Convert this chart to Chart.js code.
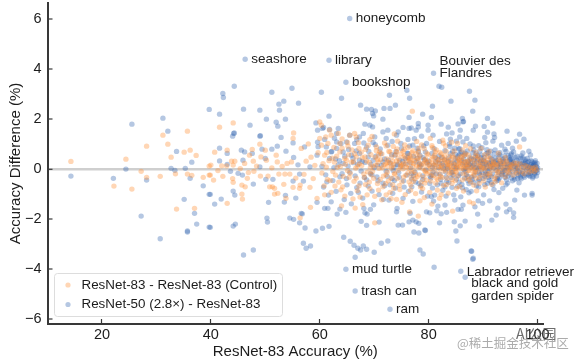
<!DOCTYPE html>
<html>
<head>
<meta charset="utf-8">
<style>
  html, body { margin: 0; padding: 0; background: #fff; }
  #wrap { position: relative; width: 576px; height: 360px; overflow: hidden; }
</style>
<script src="https://cdn.jsdelivr.net/npm/chart.js@4"></script>
</head>
<body>
<div id="wrap"><canvas id="scatterChart" width="576" height="360"></canvas></div>
<script>
//..values as [accuracy, difference]
const seriesNames = ['ResNet-83 - ResNet-83 (Control)', 'ResNet-50 (2.8×) - ResNet-83'];
const xTickValues = [20, 40, 60, 80, 100];
const yTickValues = [-6, -4, -2, 0, 2, 4, 6];

const controlPoints = [
  [14.3,.31],[24.4,.4],[27.2,-.09],[22.2,-.68],[25.5,-.8],[30.7,-.29],[28.2,.92],[31.2,1.36],[32.1,1],[35.7,1.52],[32.7,.48],[35.1,.68],
  [36.2,.76],[37.3,.55],[33.5,-.19],[35.7,-.2],[36.5,-.25],[38.6,-.33],[39.7,-.24],[33.7,-1.6],[37,-1.57],[39.7,.12],[28.2,-.33],
  [44.1,1.85],[41.6,1.68],[49,1],[55.2,1.45],[55.1,1.23],[40.7,.68],[43,.76],[47.6,.79],[47.1,.56],[50,.76],[52,.56],[54,.23],[52.2,.29],
  [49.2,.49],[46.2,.23],[47.8,.32],[50.2,.36],[56.6,.83],[57.5,.32],[54.8,.29],[43.8,.32],[44.4,.32],[44.1,.16],[42,.13],[42.9,.13],[40,.16],
  [39.9,-.24],[40.5,-.44],[42.2,-.29],[44,-.38],[44.1,-.53],[45.7,-.64],[46.3,-.71],[45.7,-1],[45.8,-1.2],[43,-1.37],[47.9,-.09],[49.1,-.28],
  [50.5,-.28],[52.5,-.2],[53.6,-.2],[54.5,-.2],[53.4,-.61],[50.8,-.71],[51.3,-.71],[51.7,-.77],[51.7,-1],[52.3,-.97],[55.1,-.73],[56.4,-.64],
  [56.3,-.77],[58.2,-.73],[53.8,-1.17],[59.5,-1.17],[58.3,-1.53],[56.4,-1.95],[58.4,.48],[59.1,.15],[57.1,-.21],[55.6,-.36],[48.4,.12],[51.2,.05],
  [53.1,.11],[45.4,.02],[46.9,-.14],[58.8,-.38],[59.7,.66],[57.9,1.01],[46.7,-.37],[41.3,-.06],
  [77,2.32],[60,1.89],[60.3,1.76],[61.8,1.56],[62.1,1.36],[63.4,1.43],[65.5,1.36],[66.4,1.43],[66.7,1.29],[60,1.23],[60.3,.96],[61.5,1.03],
  [63.7,1.03],[68.9,.96],[70.4,.89],[71,.69],[72.9,.69],[73.2,.49],[63.7,.69],[60.9,.56],[64.6,.43],[66.7,.49],[68.3,.49],[75.3,.49],[76.5,.56],
  [76.5,.36],[79.3,.36],[70.1,-2.15],[66.5,-1.56],[64,-1.47],[78.1,-1.88],[76.5,-1.71],[84.4,-1.68],[80.6,-1.4],[87.5,-1.31],[82,-1.17],[88.2,-1.37],[96.7,.89],
  [60.6,.22],[61.2,.08],[60.4,-.16],[61.4,-.41],[60.8,-.67],[62.1,-.93],[62.7,.28],[63.2,.07],[62.9,-.24],[63.5,-.52],[64.2,-.71],[64.7,.19],[65.1,-.06],
  [65.4,-.33],[65.9,.77],[66.2,.31],[66.6,.04],[66.3,-.49],[66.9,-.86],[67.4,-1.12],[67.2,.83],[67.7,.14],[68.1,-.19],[68.4,-.62],[68.7,-1.03],[69.1,.27],
  [69.4,.58],[69.7,-.09],[69.9,-.37],[70.3,.16],[70.6,-.58],[70.8,-.84],[71.2,.38],[71.5,.05],[71.7,-.28],[72.1,.21],[72.4,-.12],[72.6,-.47],[72.9,-.93],
  [73.3,.12],[73.5,.91],[73.8,-.21],[74.1,.33],[74.4,-.05],[74.6,-.66],[74.9,.62],[75.2,.18],[75.4,-.32],[75.7,-1.02],[75.9,.08],[76.2,-.15],[76.4,-.51],
  [76.8,.27],[77.1,.74],[77.3,-.08],[77.5,-.38],[77.8,.13],[78.1,.44],[78.3,-.23],[78.5,-.72],[78.9,.03],[79.1,.21],[79.4,-.11],[79.6,-.44],[79.9,.58],
  [80.1,.31],[80.3,.02],[80.5,-.27],[80.7,.86],[80.9,.16],[81.1,-.07],[81.3,-.56],[81.5,.42],[81.7,.24],[81.9,-.18],[82.1,.67],[82.3,.09],[82.5,-.34],
  [82.7,1.04],[82.9,.35],[83.1,-.03],[83.3,-.62],[83.5,.18],[83.7,.51],[83.9,-.14],[84.1,.06],[84.3,-.41],[84.5,.27],[84.7,.73],[84.9,-.09],[85.1,.13],
  [85.3,-.28],[85.5,.39],[85.7,-.7],[85.9,.02],[86.1,.21],[86.3,-.19],[86.5,.56],[86.7,.08],[86.9,-.36],[87.1,.31],[87.3,-.05],[87.5,.14],[87.7,-.52],
  [87.9,.44],[88.1,.02],[88.3,-.21],[88.5,.24],[88.7,.68],[88.9,-.11],[89.1,.11],[89.3,-.33],[89.5,.37],[89.7,-.02],[89.9,.17],[90.1,-.47],[90.3,.29],
  [90.5,.05],[90.7,-.16],[90.9,.52],[91.1,.12],[91.3,-.26],[91.5,.21],[91.7,-.04],[91.9,.33],[92.1,-.38],[92.3,.08],[92.5,.16],[92.7,-.13],[92.9,.41],
  [93.1,.01],[93.3,-.22],[93.5,.26],[93.7,-.06],[93.9,.14],[94.1,-.31],[94.3,.32],[94.5,.04],[94.7,-.15],[94.9,.19],[95.1,-.03],[95.3,.09],[95.5,-.24],
  [95.7,.25],[95.9,-.08],[96.1,.12],[96.3,-.17],[96.5,.05],[96.8,.21],[97,-.11],[97.2,.07],[97.5,-.19],[97.7,.15],[97.9,-.04],[98.2,.1],[98.4,-.13],
  [98.7,.06],[98.9,-.07],[99.2,.04],[99.4,-.1],[99.6,.08],[99.8,-.03],[74.3,1.12],[78.7,.97],[71.9,1.05],[69.2,1.18],[84.2,1.08],[86.8,.94],[89.6,.83],[92.8,.64],
  [73.1,-1.18],[79.2,-1.14],[83.6,-.96],[86.4,-.88],[90.4,-.72],[93.4,-.55],[67.9,-1.42],[71.4,-1.23],[75.1,-1.33],[77.6,-.98],[81.6,-.84],[62.4,-.1],[64.9,.36]
];

//..the saturated middle of the orange cloud, marks overlap too much to separate so these are estimates
const controlCloud = [
  [74.6,.27],[81.2,.09],[77.9,-.31],[85.6,.33],[72.3,.41],[88.4,-.14],[79.7,.63],[83.8,.24],[69.8,.12],[91.4,.07],[76.1,.18],[86.2,-.43],[73.7,-.17],[82.6,.46],
  [89.2,.28],[78.2,.07],[84.6,-.22],[66.4,.62],[80.4,-.48],[75.6,.54],[87.2,.19],[71.1,-.41],[92.6,-.09],[83.2,.71],[77.4,.34],[68.6,.33],[85.1,-.11],[79.3,-.06],
  [90.8,.23],[74.2,-.38],[81.9,.38],[88.9,.44],[73.2,.04],[86.7,.29],[76.7,-.63],[82.2,-.29],[70.7,.28],[84.4,.57],[78.8,.22],[93.6,.11],[75.3,.01],[87.8,-.29],
  [80.8,.49],[72.7,.72],[85.8,.12],[77.1,.11],[89.8,-.24],[83.1,.16],[67.3,.21],[91.9,.26],[79.1,-.33],[74.8,.09],[82.8,-.08],[86.1,.47],[76.3,.42],[81.4,.77],
  [88.2,.09],[70.2,.47],[84.8,.03],[78.4,.51],[94.4,-.12],[73.9,.59],[87.4,.36],[80.2,-.13],[75.8,-.24],[83.4,-.37],[90.2,.02],[68.2,-.34],[85.4,.21],[77.7,.62],
  [82.4,.31],[72.2,-.23],[89.4,.16],[79.8,.13],[74.4,.44],[86.9,-.17],[81.7,-.42],[76.9,-.12],[92.2,.19],[84.1,.39],[71.8,.17],[88.7,-.36],[78.6,-.52],[83.9,.14],
  [73.4,.31],[80.7,.24],[85.9,.52],[75.1,-.51],[90.6,-.31],[87.1,.08],[77.2,.23],[82.1,.01],[69.4,-.22],[84.3,-.57],[79.4,.41],[94.8,.06],[86.4,.02],[72.8,.26],
  [81.1,.56],[76.4,.03],[88.1,.32],[83.7,-.19],[74.9,.14],[91.2,-.17],[78.1,.68],[85.2,.44],[80.1,.15],[73.1,-.36],[87.6,-.06],[82.9,.53],[75.9,.36],[89.1,.51],
  [77.6,-.21],[84.7,.18],[70.9,.03],[92.9,.21],[81.8,.11],[79.6,.29],[86.6,.15],[74.1,.69],[83.3,.36],[88.6,-.03],[76.6,.47],[80.9,-.26],[85.3,.06],[72.4,.11],
  [90.1,.39],[78.3,.17],[82.3,.61],[75.4,.24],[87.3,.56],[84.2,-.03],[79.2,.82],[81.3,.28],[89.7,.07],[77.3,.46],[73.6,.19],[86.3,.34],[83.6,.07],[91.7,.13],
  [65.6,-.17],[67.8,.46],[69.1,-.52],[70.4,.74],[63.1,.52],[64.3,-.29],[61.7,.34],[62.6,.87],[65.2,.92],[68.4,.79],[66.7,-.36],[63.9,-.83],[71.6,-.71],[72.1,-.58],
  [74.7,-.82],[76.2,.87],[78.9,-.78],[80.6,.94],[82.7,-.66],[84.9,-.46],[86.8,.61],[88.3,-.64],[90.3,.58],[92.4,-.29],[93.2,.34],[95.2,.17],[96.2,.24],[94.2,.27],
  [67.1,1.06],[61.1,1.29],[64.1,1.21],[65.1,1.07],[69.6,1.31],[73.7,1.41],[75.6,.97],[77.8,1.11],[80.3,1.23],[82.6,1.16],[85.3,1.03],[87.7,.82],[91.1,.71],[94.1,.47],
  [61.9,-.46],[64.6,-1.08],[66.1,-1.19],[69.2,-.78],[70.1,-1.09],[72.2,-1.03],[74.1,-1.21],[76.7,-.84],[78.4,-1.27],[80.2,-.93],[82.3,-1.02],[85.1,-.77],[88.8,-.87],[91.6,-.61],
  [61.3,.67],[62.3,.44],[63.8,.11],[65.3,.58],[66.9,.12],[67.6,.68],[68.8,-.11],[70.6,.39],[71.4,.61],[72.5,.29],[73.4,-.62],[74.2,.81],[75.5,.79],[76.9,.66],[77.2,-.49],
  [78.1,.34],[79.3,-.56],[80.6,.41],[81.4,-.36],[82.4,.14],[83.1,.93],[84.5,.48],[85.7,.26],[86.2,.77],[87.4,-.41],[88.6,.53],[89.3,-.57],[90.7,.36],[91.3,.44],[92.2,-.51],
  [60.9,-1.03],[62.8,-.68],[64.1,.84],[65.8,.28],[67.2,-.67],[69.3,.07],[70.8,.58],[72.2,.93],[73.6,-.77],[75.3,.72],[76.8,-.33],[78.2,.83],[79.7,-.18],[81.2,.69],[83.4,.29]
];

const widePoints = [
  [25.5,1.8],[31.2,2.04],[32.1,1.52],[24.4,0],[22.1,-.37],[14.3,-.28],[33.7,.71],[36.5,.28],[32.7,.03],[33.4,-.05],[35.3,.03],[36.2,-.37],[28.2,-.44],
  [38.6,-.67],[39.7,-1.01],[35.1,-1.21],[37,-1.77],[27.2,-1.88],[35.7,-2.52],[35.7,-2.48],[37.4,-2.2],[39.7,-2.32],[30.7,-2.79],[39.7,2.39],
  [44.3,3.32],[42.2,3.03],[42.3,2.87],[41.6,2.2],[46,2.4],[51.2,3.08],[54.9,3.24],[53.4,2.72],[52.5,2.6],[56.1,2.64],[52.6,2.36],[49,2.36],[50.2,2],
  [53.7,2],[47.2,1.76],[52,1.88],[52.3,1.72],[59.3,1.85],[59.6,1.56],[44.2,1.43],[44.3,1.45],[44,1.32],[49,1.32],[49.1,1.34],[52.9,1.27],[55.1,1.05],
  [59.6,1.08],[41.6,.84],[43,.63],[45.6,.76],[46.2,.69],[47.6,.63],[49.4,.8],[52.2,.92],[51.2,.8],[53.8,.72],[57.2,.89],[59.7,.9],[59.5,.56],[55.2,.47],
  [45.9,.36],[41.6,.33],[50,.43],[43,.19],[56,.17],[58.2,.09],[49,.09],[46.3,4.4],
  [43.6,-.09],[45,-.17],[45.8,-.24],[47.8,-.6],[50.1,-.41],[51.4,-.41],[55.1,-.48],[56.3,-.2],[57,-.48],[39.9,-1.01],[40.7,-1.4],[41.9,-1.2],[44.1,-.88],
  [44.4,-1.04],[50.6,-1.33],[53.5,-1.32],[53.7,-1.05],[55.6,-1.16],[59.5,-1.33],[56.6,-1.77],[56.8,-1.79],[50.3,-1.96],[50.4,-2.12],[54.5,-1.96],[55.2,-2.01],
  [56.3,-2.15],[57.3,-2.36],[59.3,-2.48],[44.5,-2.2],[44.1,-2.28],[39.9,-2.33],[57,-2.97],[57.5,-3.17],[58.3,-3.08],[47.8,-3.24],[46,-3.44],
  [60.3,3.08],[64,2.84],[67.5,2.56],[68.6,2.4],[69.5,2.39],[70.2,2.33],[69.7,2.23],[69.9,2.13],[71.8,2.43],[72.9,2.43],[73.9,2.56],[71.6,2],[72.8,2.96],
  [61.7,2.12],[76.4,2.07],[78.9,2.2],[76.5,2.84],[76,3.16],[64.8,3.48],[65.5,6.03],[61.7,4.36],[80.9,3.84],[64.8,-4.01],[66.5,-4.88],[72.9,-5.61],[85.9,-4.09],[86.7,-4.33],
  [68.3,1.8],[69.2,1.76],[69.7,1.69],[71.6,1.49],[72.5,1.56],[74.4,1.49],[75.3,1.67],[76.4,1.63],[76.8,1.65],[78.1,1.69],[78.1,1.83],[77.7,1.56],[79.9,1.76],
  [79.9,1.56],[60.5,1.63],[60.7,1.67],[63.4,1.63],[63.1,1.43],[61.8,1.59],[68,1.43],[67.3,1.29],[65.5,1.36],[70.1,1.29],[72.2,1.23],[74.1,1.36],[76.2,1.19],
  [78.7,1.32],[77.1,.96],[60.9,1.19],[63.1,1.09],[64.9,1.09],[66.4,1.03],[68.1,1.05],[69.8,1.07],[72.5,.96],[75,.83],[79.6,1.03],[61.2,.89],[63.1,.83],[62.1,.69],
  [62.2,.71],[64.3,.69],[67.3,.63],[69.8,.36],[65.8,.56],[73.8,.56],[76.2,.63],[78.4,.56],[61.8,.43],[64.3,.23],[67.3,.36],[71.6,.29],[74.7,.36],[77.7,.29],
  [60.5,-2.37],[61.7,-2.29],[64.4,-2.73],[65.6,-2.89],[66.3,-3.05],[67,-3.17],[67.5,-3.24],[68,-3.08],[68.6,-3.21],[70,-3.33],[66.5,-3.53],[71.3,-2.97],[72.5,-2.88],
  [78.4,-3.24],[79,-3.4],[77.3,-2.52],[78.2,-2.56],[79.3,-2.44],[79.4,-2.46],[74.4,-2.24],[75.2,-2.24],[76.4,-2.11],[77.1,-2.04],[77.7,-2.11],[78.2,-2.17],[67.6,-2.09],
  [68.6,-2.25],[70.9,-2.12],[60.9,-1.57],[61.5,-1.57],[63.2,-1.8],[64.8,-1.73],[63.7,-1.6],[68.1,-1.57],[68.3,-1.75],[68.7,-1.8],[69.3,-1.61],[74.2,-1.57],[74.1,-1.71],
  [79.6,-1.71],[76.6,-1.77],
  [81.9,3.32],[82.4,3.28],[87.5,3.12],[88.5,2.76],[84.1,2.72],[80.7,2.52],[88.1,2.32],[80.5,2.07],[86.2,2.03],[86.3,1.89],[86.4,1.91],[85.4,1.81],[90.8,2.03],[91.8,1.84],
  [82.3,1.8],[83.6,1.68],[88.6,1.72],[90.2,1.71],[94.4,1.52],[96.7,1.4],[88.2,1.56],[85.8,1.56],[84.3,1.45],[83.3,1.41],[90.8,1.48],[92,1.41],[92.1,1.27],[97.5,1.2],
  [96.1,1.12],[90.3,1.27],[85.7,1.29],[87,1.23],[84,1.2],[94.6,1.03],[91.8,1.12],[82,1.11],[86.3,1.09],[98.4,.72],[98.7,.57],[97.3,.65],[99.3,.23],
  [87.9,-3.29],[88.2,-3.57],[85.2,-2.88],[85,-2.48],[82,-2.15],[84.7,-2.11],[85.8,-2.27],[86.7,-2.08],[89.3,-2.28],[91.6,-2.04],[92.4,-1.84],[89,-1.8],[92.7,-1.56],[94.2,-1.4],
  [94.3,-1.71],[94.9,-1.61],[95.6,-1.75],[95.6,-1.93],[95.8,-1.24],[97.6,-1.04],[99,-.97],[99,-1.04],[96.2,-.84],[91.2,-1.27],[89.9,-1.37],[89.1,-1.27],[88.5,-1.51],[86.3,-1.44],
  [86,-1.61],[85.4,-1.61],[84.8,-1.24],[83,-1.44],[81.7,-1.48],[81.5,-1.67],[82.3,-1.79],[83.3,-1.73],[80.2,-1.75],[80.5,-1.1],[81.1,-1.04],[81,-3.93],[87.8,-3.28],[88.1,-3.61],
  [60.4,.11],[61.1,-.23],[60.7,-.72],[61.6,-1.04],[62.6,.06],[62.4,-.46],[63,-.89],[63.6,.34],[64.1,-.18],[64.5,-1.22],[65.2,.12],[65,-.63],[65.7,-.97],[66.1,.44],[66.5,-.27],
  [67,.19],[66.8,-.74],[67.6,-.08],[67.9,-1.16],[68.3,.27],[68.6,-.43],[69,.71],[69.3,-.17],[69.6,-.88],[70,.06],[70.3,.52],[70.5,-.31],[70.9,-1.02],[71.3,.14],[71.6,-.56],
  [71.9,.41],[72.2,-.09],[72.7,-1.24],[73,.24],[73.3,-.38],[73.6,.07],[73.9,-.76],[74.2,.19],[74.5,-.14],[75.1,.11],[75.4,-.47],[75.7,.43],[76,-.24],[76.3,-.89],[76.7,.06],
  [76.9,-.4],[77.2,.52],[77.5,-.13],[77.9,.84],[78.2,-.58],[78.6,.17],[78.9,-.27],[79.2,.38],[79.5,-.03],[79.8,-1.08],[80.1,.18],[80.4,-.36],[80.6,.63],[80.8,-.12],[81,.82],
  [81.3,.29],[81.6,-.63],[81.8,.06],[82.1,-.21],[82.4,.47],[82.6,-.85],[82.8,.14],[83,.74],[83.2,-.31],[83.5,.02],[83.7,-.54],[83.9,.91],[84.2,.25],[84.4,-.12],[84.6,-1.03],
  [84.9,.59],[85.1,-.4],[85.2,.1],[85.5,.81],[85.8,-.19],[86,.36],[86.2,-.75],[86.5,-.03],[86.7,.64],[86.9,.17],[87.2,-.29],[87.4,-.95],[87.6,.48],[87.8,.07],[88,-.42],
  [88.2,.93],[88.4,.21],[88.6,-.11],[88.8,-.67],[89,.55],[89.2,.03],[89.4,-.23],[89.6,.33],[89.8,.86],[90,-.38],[90.2,.13],[90.4,-.09],[90.6,.62],[90.8,-.57],[91,.26],
  [91.2,.01],[91.4,.72],[91.6,-.31],[91.8,.15],[92,-.82],[92.2,.44],[92.4,-.06],[92.6,.23],[92.8,-.44],[93,.58],[93.2,.09],[93.4,-.18],[93.6,.37],[93.8,-.02],[94,.8],[94.2,-.63],
  [94.4,.17],[94.6,-.27],[94.8,.46],[95,.04],[95.2,.28],[95.4,-.12],[95.6,.69],[95.8,-.41],[96,.13],[96.2,.36],[96.4,-.07],[96.6,-.55],[96.8,.22],[97,.53],[97.2,-.17],[97.4,.08],
  [97.6,-.33],[97.8,.31],[98,-.02],[98.2,.16],[98.4,-.26],[98.6,.09],[98.8,.34],[99,-.12],[99.1,-.36],[99.2,.14],[99.4,.02],[99.5,-.2],[99.6,.19],[99.7,-.09],[99.8,.1],[99.8,-.28],[99.9,.24],[99.9,-.04],[100,.06],[100,-.14],
  [85.3,.49],[87.3,.29],[88.9,.07],[91.7,.18],[93.1,.3],[94.5,.09],[95.3,.21],[96.3,.05],[97.1,.11],[98.1,.26],[98.9,.07],[99.3,-.05],[86.6,-.36],[90.5,-.2],[92.9,-.12],[94.1,-.22],[96.9,-.23],[98.5,-.1]
];

//..the dense middle of the blue cloud, also estimates
const wideCloud = [
  [93.7,.42],[89.3,-.16],[96.6,.33],[84.7,.22],[91.3,.51],[87.9,-.33],[98.3,-.21],[94.7,-.04],[82.2,-.41],[90.7,.09],[86.1,.68],[95.7,-.31],[92.3,.29],[88.3,.38],
  [97.4,.27],[83.4,.13],[91.1,-.44],[94.9,.36],[85.6,-.52],[89.9,.24],[96.1,-.15],[92.7,-.28],[87.1,.12],[98.8,.19],[79.9,.33],[93.3,.17],[90.9,-.07],[86.4,.41],
  [95.1,.13],[81.4,-.19],[88.7,.61],[97.3,-.09],[91.9,.04],[84.1,-.34],[94.3,-.43],[89.6,.46],[96.4,.17],[92.1,.62],[86.9,-.22],[99.1,.12],[78.3,.22],[93.9,.21],
  [90.3,-.29],[87.7,.24],[95.9,.47],[82.9,.38],[91.5,.31],[97.9,.14],[85.2,.31],[89.1,-.48],[94.1,.08],[92.9,.49],[80.7,.08],[96.8,-.33],[88.1,.14],[98.6,-.29],
  [84.4,.72],[90.1,.34],[93.5,-.23],[86.7,-.09],[95.5,.29],[91.7,-.19],[76.8,-.18],[97.7,.38],[83.1,-.11],[89.4,.11],[94.6,.54],[87.4,-.58],[92.5,.12],[99.4,-.16],
  [75.2,.31],[81.9,.53],[90.6,.18],[96,.02],[85,.04],[93,-.36],[88.5,.06],[95.4,-.47],[91.4,.11],[73.5,-.06],[97.2,.21],[84.9,.41],[89.8,-.13],[94.4,.33],[86.2,.19],
  [92,.26],[78.9,-.42],[98.2,.04],[82.5,.23],[90.2,.47],[87.2,.33],[95.8,.11],[93.6,-.11],[80.3,-.29],[96.9,.44],[88.8,.29],[91,-.34],[84.2,-.13],[94,-.06],[76.1,.64],
  [99,.29],[86.6,.56],[92.6,-.38],[89,.39],[97.5,-.27],[83.7,.44],[90.8,-.21],[95,.39],[74.3,.16],[87.5,.17],[93.2,.23],[81,.16],[98.4,.31],[85.5,-.27],[91.6,.41],
  [79,.46],[96.5,-.24],[88.4,-.26],[94.8,.19],[82.7,.03],[90,.07],[92.8,.07],[86.8,.03],[97,-.39],[84.6,.11],[95.6,.23],[89.5,.27],[77.2,-.27],[93.8,.31],[99.5,.27],
  [61.3,-.51],[63.4,.16],[64.9,-.38],[66.2,.26],[67.4,-.56],[68.9,.49],[69.6,-.23],[70.6,.16],[71.9,-.67],[72.6,.36],[73.7,-.46],[75.5,-.72],[76.6,.27],[77.9,.43],
  [78.6,-.66],[79.4,.69],[80.2,-.58],[81.7,.37],[83,-.71],[84,.62],[85.7,.82],[86.9,-.82],[88.3,.77],[89.2,-.71],[90.7,.78],[91.8,-.64],[93.1,.66],[94.5,-.56],[95.2,.63],
  [63.9,1.02],[65.3,.79],[68.6,.88],[71.1,.81],[73.3,1.11],[74.9,1.03],[77.4,1.22],[79.1,.93],[80.8,1.36],[83.8,1.01],[85.1,1.12],[87.6,1.01],[89.2,.94],[90.5,1.06],[93.4,.96],[95.4,.84],
  [62.1,-1.31],[65.8,-1.39],[67.1,-.93],[69.9,-1.43],[71.7,-1.21],[73.4,-.97],[75.3,-1.17],[77.1,-1.29],[78.7,-.92],[80.9,-1.28],[83.2,-1.08],[85.9,-1.11],[87.8,-.89],[90.1,-1.03],[92.9,-.94],[93.6,-.77],
  [95.3,.42],[96.7,-.12],[97.6,.24],[98.7,-.17],[99.6,.34],[99.2,-.3],[94.9,-.19],[93.9,.53],[92.4,.34],[91.2,.23],[90.4,.29],[89.7,.56],[88.6,.48],[87.8,.41],[86.5,.26],[85.8,.64],
  [98.1,.43],[97.3,.46],[96.2,.52],[95.1,.57],[94.2,.71],[92.2,.77],[90.9,.66],[89.4,.73],[88.1,.66],[87.1,.73],[85.6,.57],[84.8,.84],[99.7,.04],[99.3,.16],[98.9,-.02],[98.3,.12],
  [97.8,-.19],[96.3,-.38],[95.2,-.36],[94,-.33],[92.5,-.47],[91.5,-.53],[90.3,-.62],[89.3,-.41],[88.2,-.53],[87.2,-.46],[86.1,-.61],[85.3,-.69],[84.3,-.73],[83.3,-.49],[82.3,-.57],
  [62.9,.41],[63.7,-.31],[64.6,.52],[65.5,-.13],[66.7,.73],[67.8,.31],[68.2,-.33],[69.4,.19],[70.7,-.47],[71.2,.62],[72.4,-.29],[73.2,.58],[74.6,-.33],[75.8,.21],[76.2,.47],[77.6,-.52],
  [78.4,.09],[79.7,.26],[80.6,-.23],[81.2,.47],[82,.24],[83.6,.31],[84.5,-.24],[70.2,.98],[74,.71],[76.5,.93],[78.1,.72],[66.8,1.18],[62.7,1.24],[68.9,-.68],[72.9,-.63],[76.9,-.71],[80.7,-.76]
];

//..names next to single classes, anchored on the point they belong to
const pointNames = ['honeycomb', 'seashore', 'library', 'bookshop', ['Bouvier des', 'Flandres'], 'mud turtle', 'trash can', 'ram', 'Labrador retriever', ['black and gold', 'garden spider']];
const pointNameX = [65.5, 46.3, 61.7, 64.8, 80.9, 64.8, 66.5, 72.9, 85.9, 86.7];
const pointNameY = [6.03, 4.4, 4.36, 3.48, 3.84, -4.01, -4.88, -5.61, -4.09, -4.33];

const orangeDot = 'rgba(255,140,50,0.36)';
const blueDot = 'rgba(50,100,175,0.36)';
const inkColor = '#1c1c1c';
const axisColor = '#383838';
const plainFont = '"Liberation Sans", Arial, sans-serif';

const toXY = p => ({ x: p[0], y: p[1] });

//..draws the names, the legend box and the watermark on top of the points
const overlayPlugin = {
    id: 'overlay',
    afterDatasetsDraw(chart) {
        const ctx = chart.ctx;
        const xs = chart.scales.x;
        const ys = chart.scales.y;
        ctx.save();
        ctx.fillStyle = inkColor;
        ctx.textAlign = 'left';
        ctx.textBaseline = 'middle';
        ctx.font = '13.5px ' + plainFont;
        pointNames.forEach((name, i) => {
            const lines = Array.isArray(name) ? name : [name];
            const px = xs.getPixelForValue(pointNameX[i]) + 6;
            const py = ys.getPixelForValue(pointNameY[i]);
            let top = py;
            if (i === 4) top = py - 12;
            if (i === 9) top = py + 6;
            if (i === 8) top = py + 1;
            lines.forEach((line, k) => ctx.fillText(line, px, top + k * 12.5));
        });

        //..legend box
        ctx.beginPath();
        ctx.roundRect(54.5, 273.5, 228, 43, 3);
        ctx.fillStyle = 'rgba(255,255,255,0.85)';
        ctx.fill();
        ctx.strokeStyle = '#dddddd';
        ctx.lineWidth = 1;
        ctx.stroke();
        ctx.font = '13.4px ' + plainFont;
        chart.data.datasets.forEach((ds, i) => {
            const ly = 285 + i * 19.5;
            ctx.beginPath();
            ctx.arc(68, ly, 2.6, 0, Math.PI * 2);
            ctx.fillStyle = ds.backgroundColor;
            ctx.fill();
            ctx.fillStyle = inkColor;
            ctx.fillText(ds.label, 81.5, ly);
        });

        //..watermark of the page the picture came from
        ctx.font = '14px "Noto Sans CJK SC"';
        ctx.fillStyle = 'rgba(70,70,70,0.8)';
        ctx.fillText('AI公园', 516, 334);
        ctx.font = '12.5px "Noto Sans CJK SC"';
        ctx.fillStyle = 'rgba(150,150,150,0.8)';
        ctx.fillText('@稀土掘金技术社区', 457, 343);
        ctx.restore();
    }
};

new Chart(document.getElementById('scatterChart'), {
    type: 'scatter',
    data: {
        datasets: [
            { label: seriesNames[0], data: controlPoints.concat(controlCloud).map(toXY), backgroundColor: orangeDot },
            { label: seriesNames[1], data: widePoints.concat(wideCloud).map(toXY), backgroundColor: blueDot }
        ]
    },
    options: {
        responsive: false,
        animation: false,
        layout: { autoPadding: false, padding: { left: 0, right: 33, top: 3, bottom: 0 } },
        elements: { point: { radius: 2.7, borderWidth: 0 } },
        plugins: { legend: { display: false }, tooltip: { enabled: false } },
        scales: {
            x: {
                type: 'linear',
                min: 10,
                max: 101,
                afterBuildTicks: scale => { scale.ticks = xTickValues.map(v => ({ value: v })); },
                afterFit: scale => { scale.height = 36; scale.paddingLeft = 0; scale.paddingRight = 0; },
                grid: { drawOnChartArea: false, tickLength: -5, tickWidth: 1.2, tickColor: axisColor },
                border: { color: axisColor, width: 2 },
                ticks: { color: inkColor, font: { size: 14.5, family: plainFont }, padding: 7, maxRotation: 0, autoSkip: false },
                title: { display: true, text: 'ResNet-83 Accuracy (%)', color: inkColor, font: { size: 15, family: plainFont }, padding: { top: 0, bottom: -1 } }
            },
            y: {
                min: -6.2,
                max: 6.65,
                afterBuildTicks: scale => { scale.ticks = yTickValues.map(v => ({ value: v })); },
                afterFit: scale => { scale.width = 47.5; scale.paddingTop = 0; scale.paddingBottom = 0; },
                grid: {
                    color: c => (c.tick && c.tick.value === 0 ? '#cfcfcf' : 'transparent'),
                    lineWidth: c => (c.tick && c.tick.value === 0 ? 2.6 : 0),
                    tickLength: -5,
                    tickWidth: 1.2,
                    tickColor: axisColor
                },
                border: { color: axisColor, width: 2 },
                ticks: {
                    color: inkColor,
                    font: { size: 14.5, family: plainFont },
                    padding: 11,
                    autoSkip: false,
                    callback: v => (v < 0 ? '\u2212' + Math.abs(v) : String(v))
                },
                title: { display: true, text: 'Accuracy Difference (%)', color: inkColor, font: { size: 15, family: plainFont }, padding: { top: 7, bottom: 0 } }
            }
        }
    },
    plugins: [overlayPlugin]
});
</script>
</body>
</html>
